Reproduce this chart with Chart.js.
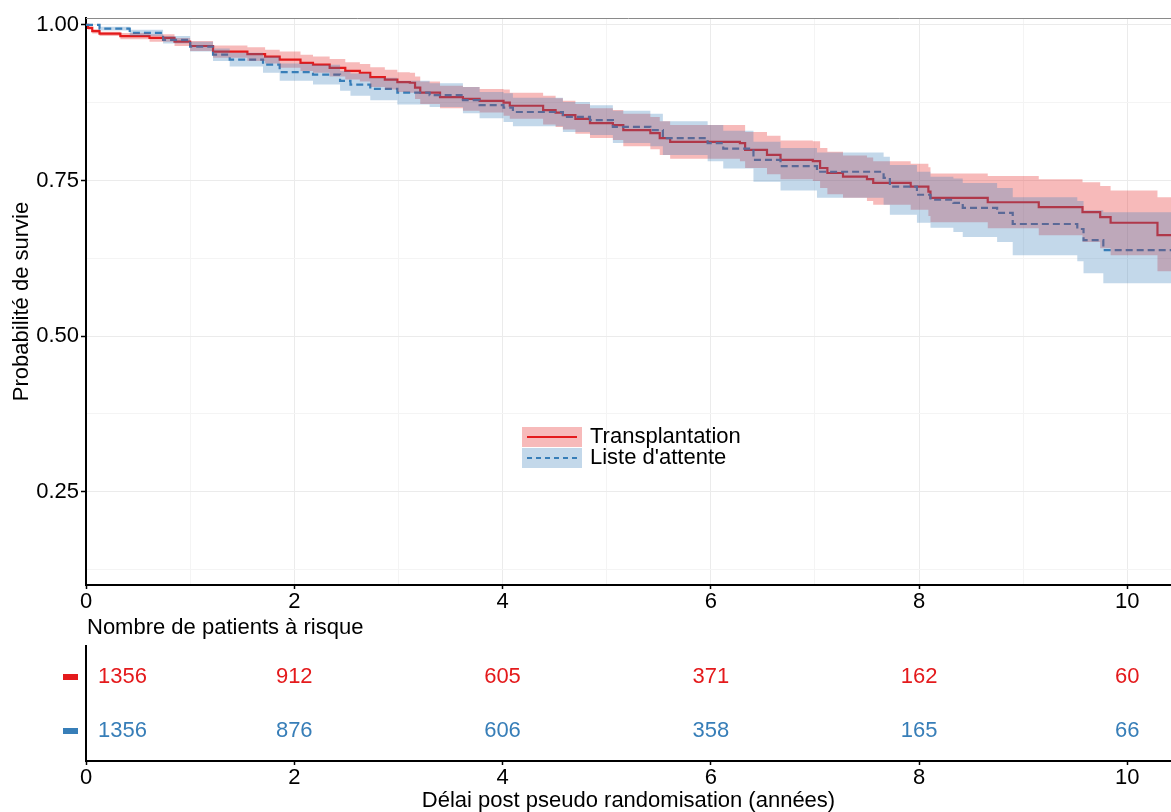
<!DOCTYPE html>
<html lang="fr">
<head>
<meta charset="utf-8">
<title>Survie post pseudo randomisation</title>
<script src="https://cdn.jsdelivr.net/npm/chart.js@4.4.1/dist/chart.umd.min.js"></script>
<style>
  html, body { margin: 0; padding: 0; background: #fff; }
  #wrap { position: relative; width: 1171px; height: 812px; overflow: hidden; }
  #survie { position: absolute; left: 0; top: 0; }
  #risque { position: absolute; left: 0; top: 612px; }
</style>
</head>
<body>
<div id="wrap">
  <canvas id="survie" width="1171" height="612"></canvas>
  <canvas id="risque" width="1171" height="200"></canvas>
</div>
<script>
// ── Courbe de Kaplan-Meier : Transplantation ──
const txTime  = [0, 0.02, 0.06, 0.13, 0.33, 0.61, 0.85, 1.00, 1.22, 1.55, 1.72, 1.86, 2.06, 2.18, 2.34, 2.49, 2.63, 2.73, 2.87, 2.99, 3.11, 3.16, 3.21, 3.40, 3.62, 3.78, 4.01, 4.07, 4.39, 4.51, 4.58, 4.70, 4.84, 5.06, 5.16, 5.42, 5.51, 5.61, 6.28, 6.33, 6.54, 6.67, 6.98, 7.05, 7.12, 7.27, 7.50, 7.56, 7.92, 8.09, 8.11, 8.66, 9.15, 9.57, 9.74, 9.84, 10.29, 10.42];
const txSurv  = [1.000, 0.995, 0.990, 0.986, 0.982, 0.979, 0.973, 0.966, 0.957, 0.953, 0.949, 0.944, 0.939, 0.936, 0.931, 0.926, 0.923, 0.916, 0.912, 0.908, 0.907, 0.899, 0.891, 0.884, 0.881, 0.878, 0.875, 0.870, 0.863, 0.859, 0.855, 0.849, 0.842, 0.839, 0.831, 0.826, 0.818, 0.812, 0.810, 0.799, 0.791, 0.783, 0.781, 0.770, 0.762, 0.756, 0.752, 0.746, 0.740, 0.732, 0.722, 0.715, 0.707, 0.699, 0.691, 0.682, 0.662, 0.662];
const txUpper = [1.000, 0.997, 0.993, 0.989, 0.987, 0.985, 0.979, 0.974, 0.967, 0.964, 0.960, 0.957, 0.952, 0.949, 0.945, 0.940, 0.937, 0.932, 0.928, 0.924, 0.923, 0.917, 0.909, 0.902, 0.900, 0.897, 0.896, 0.891, 0.886, 0.882, 0.878, 0.873, 0.866, 0.863, 0.857, 0.852, 0.845, 0.839, 0.839, 0.828, 0.822, 0.814, 0.813, 0.802, 0.796, 0.790, 0.787, 0.781, 0.777, 0.771, 0.761, 0.757, 0.752, 0.747, 0.741, 0.734, 0.723, 0.723];
const txLower = [1.000, 0.992, 0.986, 0.982, 0.977, 0.973, 0.966, 0.958, 0.947, 0.942, 0.938, 0.931, 0.926, 0.923, 0.917, 0.912, 0.909, 0.900, 0.896, 0.892, 0.891, 0.881, 0.873, 0.866, 0.862, 0.859, 0.854, 0.849, 0.840, 0.836, 0.832, 0.825, 0.818, 0.815, 0.805, 0.800, 0.791, 0.785, 0.781, 0.770, 0.760, 0.752, 0.749, 0.738, 0.728, 0.722, 0.717, 0.711, 0.703, 0.693, 0.683, 0.673, 0.662, 0.651, 0.641, 0.630, 0.604, 0.604];

// ── Courbe de Kaplan-Meier : Liste d'attente ──
const wlTime  = [0, 0.13, 0.42, 0.74, 1.00, 1.22, 1.38, 1.70, 1.86, 2.18, 2.44, 2.54, 2.73, 2.99, 3.30, 3.62, 3.78, 4.01, 4.10, 4.58, 4.84, 5.06, 5.42, 5.54, 5.97, 6.12, 6.41, 6.67, 7.02, 7.66, 7.72, 7.98, 8.11, 8.33, 8.42, 8.75, 8.90, 9.52, 9.58, 9.77, 10.42];
const wlSurv  = [1.000, 0.994, 0.987, 0.976, 0.965, 0.952, 0.944, 0.936, 0.924, 0.920, 0.910, 0.904, 0.897, 0.891, 0.887, 0.879, 0.871, 0.867, 0.860, 0.852, 0.847, 0.836, 0.831, 0.818, 0.810, 0.801, 0.783, 0.773, 0.764, 0.754, 0.740, 0.727, 0.719, 0.714, 0.706, 0.698, 0.680, 0.672, 0.654, 0.638, 0.638];
const wlUpper = [1.000, 0.997, 0.992, 0.982, 0.973, 0.962, 0.955, 0.949, 0.938, 0.936, 0.926, 0.922, 0.915, 0.910, 0.906, 0.900, 0.892, 0.890, 0.883, 0.876, 0.871, 0.862, 0.857, 0.845, 0.839, 0.830, 0.812, 0.802, 0.795, 0.788, 0.775, 0.764, 0.756, 0.753, 0.746, 0.738, 0.723, 0.717, 0.702, 0.699, 0.699];
const wlLower = [1.000, 0.991, 0.982, 0.970, 0.957, 0.942, 0.933, 0.923, 0.910, 0.904, 0.894, 0.886, 0.879, 0.872, 0.868, 0.858, 0.850, 0.844, 0.837, 0.828, 0.823, 0.810, 0.805, 0.791, 0.781, 0.769, 0.748, 0.734, 0.722, 0.711, 0.695, 0.682, 0.674, 0.667, 0.659, 0.651, 0.630, 0.620, 0.601, 0.585, 0.585];

// ── Nombre de patients à risque ──
const riskTimes = [0, 2, 4, 6, 8, 10];
const riskTx    = [1356, 912, 605, 371, 162, 60];
const riskWl    = [1356, 876, 606, 358, 165, 66];

const groupLabels = ['Transplantation', "Liste d'attente"];

// ── Styles ──
const RED  = '#E41A1C';
const BLUE = '#377EB8';
const RED_BAND  = 'rgba(228,26,28,0.3)';
const BLUE_BAND = 'rgba(55,126,184,0.3)';
const FONT = "'Liberation Sans', Arial, Helvetica, sans-serif";
const FONT_SIZE = 22;
const X_MAX = 10.42;

Chart.defaults.font.family = FONT;
Chart.defaults.font.size = FONT_SIZE;
Chart.defaults.color = '#000';

const pts = (xs, ys) => xs.map((t, i) => ({ x: t, y: ys[i] }));
const isMajor = (v, step) => Math.abs(v / step - Math.round(v / step)) < 1e-6;

const bandStyle = {
  borderWidth: 0,
  borderColor: 'transparent',
  pointRadius: 0,
  stepped: true,
};

// top panel border
const topBorder = {
  id: 'topBorder',
  afterDraw(chart) {
    const { ctx, chartArea: a } = chart;
    ctx.save();
    ctx.strokeStyle = '#8a8a8a';
    ctx.lineWidth = 1;
    ctx.beginPath();
    ctx.moveTo(a.left, a.top + 0.5);
    ctx.lineTo(a.right, a.top + 0.5);
    ctx.stroke();
    ctx.restore();
  }
};

// legend drawn inside the plot panel
const innerLegend = {
  id: 'innerLegend',
  afterDatasetsDraw(chart) {
    const ctx = chart.ctx;
    const items = [
      { label: groupLabels[0], band: RED_BAND, color: RED, dash: [] },
      { label: groupLabels[1], band: BLUE_BAND, color: BLUE, dash: [5, 4] },
    ];
    const x0 = 522, y0 = 427, w = 60, h = 20;
    ctx.save();
    items.forEach((it, i) => {
      const top = y0 + i * (h + 1);
      const mid = top + h / 2;
      ctx.fillStyle = it.band;
      ctx.fillRect(x0, top, w, h);
      ctx.strokeStyle = it.color;
      ctx.lineWidth = 2;
      ctx.setLineDash(it.dash);
      ctx.beginPath();
      ctx.moveTo(x0 + 5, mid);
      ctx.lineTo(x0 + w - 5, mid);
      ctx.stroke();
      ctx.setLineDash([]);
      ctx.fillStyle = '#000';
      ctx.font = `${FONT_SIZE}px ${FONT}`;
      ctx.textAlign = 'left';
      ctx.textBaseline = 'middle';
      ctx.fillText(it.label, x0 + w + 8, mid);
    });
    ctx.restore();
  }
};

// ── Survival chart ──
new Chart(document.getElementById('survie'), {
  type: 'line',
  data: {
    datasets: [
      { label: groupLabels[0], data: pts(txTime, txSurv), borderColor: RED, borderWidth: 2.2,
        pointRadius: 0, stepped: true, fill: false, order: 4 },
      { label: groupLabels[1], data: pts(wlTime, wlSurv), borderColor: BLUE, borderWidth: 2.2,
        borderDash: [7, 4], pointRadius: 0, stepped: true, fill: false, order: 3 },
      { data: pts(txTime, txUpper), ...bandStyle, backgroundColor: RED_BAND, fill: '+1', order: 2 },
      { data: pts(txTime, txLower), ...bandStyle, fill: false, order: 2 },
      { data: pts(wlTime, wlUpper), ...bandStyle, backgroundColor: BLUE_BAND, fill: '+1', order: 1 },
      { data: pts(wlTime, wlLower), ...bandStyle, fill: false, order: 1 },
    ]
  },
  options: {
    responsive: false,
    animation: false,
    layout: { padding: { top: 18, left: 0, right: 0, bottom: 0 } },
    plugins: {
      legend: { display: false },
      tooltip: { enabled: false },
    },
    scales: {
      x: {
        type: 'linear',
        min: 0,
        max: X_MAX,
        afterFit: s => { s.height = 27; },
        ticks: {
          stepSize: 1,
          includeBounds: false,
          maxRotation: 0,
          padding: 0,
          callback: v => isMajor(v, 2) ? String(v) : '',
        },
        grid: {
          color: c => isMajor(c.tick.value, 2) ? '#ebebeb' : '#f4f4f4',
          tickColor: c => isMajor(c.tick.value, 2) ? '#000' : 'transparent',
          tickLength: 4,
          tickWidth: 1.5,
        },
        border: { color: '#000', width: 2 },
      },
      y: {
        min: 0.1,
        max: 1.011,
        afterFit: s => { s.width = 86; },
        ticks: {
          stepSize: 0.125,
          includeBounds: false,
          padding: 2,
          callback: v => isMajor(v, 0.25) ? v.toFixed(2) : '',
        },
        grid: {
          color: c => isMajor(c.tick.value, 0.25) ? '#ebebeb' : '#f4f4f4',
          tickColor: c => isMajor(c.tick.value, 0.25) ? '#000' : 'transparent',
          tickLength: 5,
          tickWidth: 1.5,
        },
        border: { color: '#000', width: 2 },
        title: {
          display: true,
          text: 'Probabilité de survie',
          padding: { top: 9, bottom: 0 },
        },
      },
    },
  },
  plugins: [topBorder, innerLegend],
});

// ── Risk table ──
const riskText = {
  id: 'riskText',
  afterDatasetsDraw(chart) {
    const { ctx, chartArea: a, scales: { x, y } } = chart;
    ctx.save();
    ctx.font = `${FONT_SIZE}px ${FONT}`;
    ctx.textBaseline = 'middle';
    ctx.fillStyle = '#000';
    ctx.textAlign = 'left';
    ctx.fillText('Nombre de patients à risque', a.left + 1, 16);
    chart.data.datasets.forEach(ds => {
      ctx.fillStyle = ds.borderColor;
      ds.data.forEach((p, i) => {
        const px = x.getPixelForValue(p.x);
        const py = y.getPixelForValue(p.y);
        ctx.textAlign = i === 0 ? 'left' : 'center';
        ctx.fillText(String(p.n), i === 0 ? px + 12 : px, py);
      });
      // group marker left of the table
      const py = y.getPixelForValue(ds.data[0].y);
      ctx.fillRect(a.left - 23, Math.round(py) - 3, 15, 6);
    });
    ctx.restore();
  }
};

new Chart(document.getElementById('risque'), {
  type: 'scatter',
  data: {
    datasets: [
      { data: riskTimes.map((t, i) => ({ x: t, y: 2, n: riskTx[i] })), borderColor: RED, pointRadius: 0 },
      { data: riskTimes.map((t, i) => ({ x: t, y: 1, n: riskWl[i] })), borderColor: BLUE, pointRadius: 0 },
    ]
  },
  options: {
    responsive: false,
    animation: false,
    layout: { padding: { top: 34, left: 0, right: 0, bottom: 0 } },
    plugins: {
      legend: { display: false },
      tooltip: { enabled: false },
    },
    scales: {
      x: {
        type: 'linear',
        min: 0,
        max: X_MAX,
        afterFit: s => { s.height = 51; },
        ticks: {
          stepSize: 2,
          includeBounds: false,
          maxRotation: 0,
          padding: 0,
        },
        grid: {
          drawOnChartArea: false,
          tickColor: '#000',
          tickLength: 4,
          tickWidth: 1.5,
        },
        border: { color: '#000', width: 2 },
        title: {
          display: true,
          text: 'Délai post pseudo randomisation (années)',
          font: { lineHeight: 1.0 },
          padding: { top: 0, bottom: 0 },
        },
      },
      y: {
        min: 0.44,
        max: 2.57,
        afterFit: s => { s.width = 86; },
        afterBuildTicks: s => { s.ticks = [{ value: 1 }, { value: 2 }]; },
        ticks: { callback: () => '' },
        grid: { display: false },
        border: { color: '#000', width: 2 },
      },
    },
  },
  plugins: [riskText],
});
</script>
</body>
</html>
